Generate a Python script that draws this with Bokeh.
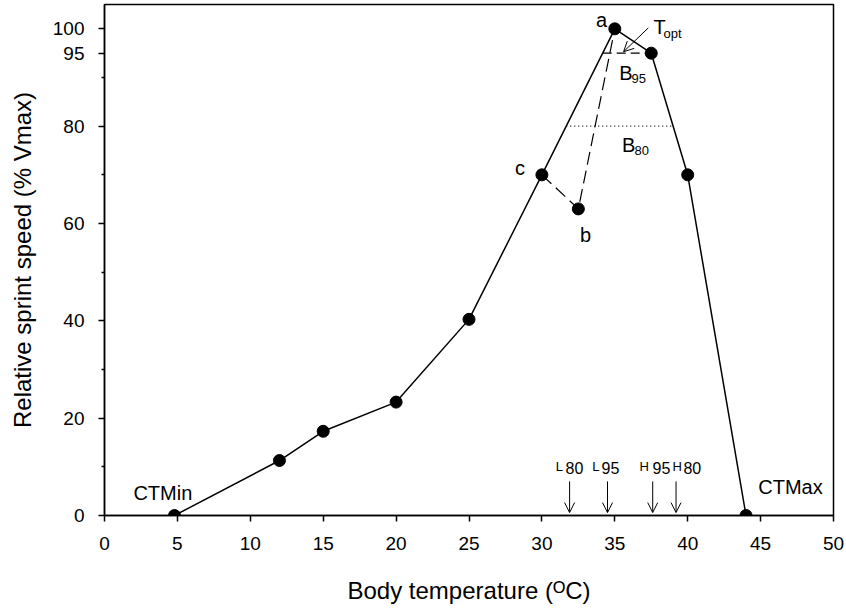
from bokeh.plotting import figure
from bokeh.models import FixedTicker, Arrow, OpenHead, Range1d, ColumnDataSource
from bokeh.core.properties import value
from bokeh.embed import file_html
from bokeh.resources import INLINE

# ---- data ----
temp = [4.8, 12, 15, 20, 25, 30, 35, 37.5, 40, 44]
speed = [0, 11.3, 17.3, 23.3, 40.3, 70, 100, 95, 70, 0]
outlier_temp = [32.5]
outlier_speed = [63]
dash_temp = [30, 32.5, 35]
dash_speed = [70, 63, 100]
b95_temp = [34.17, 37.5]
b95_speed = [95, 95]
b80_temp = [31.67, 39.0]
b80_speed = [80, 80]
marker_names = ["L", "L", "H", "H"]
marker_levels = ["80", "95", "95", "80"]
marker_temp = [31.9, 34.5, 37.6, 39.2]
x_ticks = [0, 5, 10, 15, 20, 25, 30, 35, 40, 45, 50]
y_ticks = [0, 20, 40, 60, 80, 95, 100]
y_minor = [10, 30, 50, 70, 90]

FONT = "Liberation Sans"

p = figure(width=846, height=611, x_range=Range1d(0, 50), y_range=Range1d(0, 105),
           output_backend="svg", toolbar_location=None,
           min_border_left=104, min_border_right=13, min_border_top=4, min_border_bottom=96)
p.grid.visible = False
p.background_fill_color = "white"
p.border_fill_color = "white"
p.outline_line_color = "black"
p.outline_line_width = 1.5

for ax in (p.xaxis[0], p.yaxis[0]):
    ax.axis_line_width = 1.5
    ax.axis_line_color = "black"
    ax.major_tick_line_width = 1.5
    ax.major_tick_line_color = "black"
    ax.minor_tick_line_width = 1.5
    ax.minor_tick_line_color = "black"
    ax.major_tick_out = 6
    ax.major_tick_in = 0
    ax.major_label_text_font = FONT
    ax.major_label_text_font_size = "19px"
    ax.major_label_text_color = "black"
    ax.axis_label_text_font = FONT
    ax.axis_label_text_font_size = "24px"
    ax.axis_label_text_font_style = "normal"
    ax.axis_label_text_color = "black"

p.xaxis[0].major_label_standoff = 15
p.yaxis[0].major_label_standoff = 14

p.xaxis[0].ticker = FixedTicker(ticks=x_ticks, minor_ticks=[])
p.yaxis[0].ticker = FixedTicker(ticks=y_ticks, minor_ticks=y_minor)
p.yaxis[0].minor_tick_out = 3
p.yaxis[0].minor_tick_in = 0
p.xaxis[0].minor_tick_out = 0
p.xaxis[0].minor_tick_in = 0

p.yaxis[0].axis_label = "Relative sprint speed (% Vmax)"
p.yaxis[0].axis_label_standoff = 14
p.xaxis[0].axis_label = "Body temperature (\u1d3cC)"
p.xaxis[0].axis_label_standoff = 24

# ---- lines ----
p.line(temp, speed, line_color="black", line_width=1.5)
p.line(dash_temp, dash_speed, line_color="black", line_width=1.2, line_dash="13 6")
p.line(b95_temp, b95_speed, line_color="black", line_width=1.2, line_dash="9 5")
p.line(b80_temp, b80_speed, line_color="black", line_width=1.2, line_dash="1 3")

p.scatter(temp + outlier_temp, speed + outlier_speed, size=12, color="black")

# ---- annotations ----
def txt(x, y, s, size, align="left"):
    p.text(x=[x], y=[y], text=[s], text_font=value(FONT), text_font_size=size,
           text_align=align, text_baseline="alphabetic", text_color="black")

txt(34.1, 101.9, "a", "20px", "center")
txt(28.5, 71.5, "c", "20px", "center")
txt(33.0, 57.7, "b", "20px", "center")
txt(37.65, 100.3, "T", "20px")
txt(38.34, 99.1, "opt", "13px")
txt(35.3, 91.0, "B", "20px")
txt(36.15, 89.8, "95", "13px")
txt(35.5, 76.2, "B", "20px")
txt(36.35, 75.0, "80", "13px")
txt(4.0, 4.6, "CTMin", "20px", "center")
txt(47.05, 5.8, "CTMax", "20px", "center")

p.add_layout(Arrow(end=OpenHead(size=10, line_width=1, line_color="black"),
                   x_start=37.3, y_start=100.2, x_end=35.6, y_end=95.3,
                   line_width=1, line_color="black"))

arr = ColumnDataSource(dict(x0=marker_temp, y0=[7.0] * 4, x1=marker_temp, y1=[0.6] * 4))
p.add_layout(Arrow(end=OpenHead(size=10, line_width=1, line_color="black"),
                   source=arr, x_start="x0", y_start="y0", x_end="x1", y_end="y1",
                   line_width=1, line_color="black"))

letter_left = [30.95, 33.45, 36.7, 38.95]
digit_left = [31.62, 34.09, 37.59, 39.71]
p.text(x=letter_left, y=[10.0] * 4, text=marker_names, text_font=value(FONT),
       text_font_size="13px", text_align="left", text_baseline="alphabetic", text_color="black")
p.text(x=digit_left, y=[9.7] * 4, text=marker_levels, text_font=value(FONT),
       text_font_size="16px", text_align="left", text_baseline="alphabetic", text_color="black")

open("out.html", "w").write(file_html(p, INLINE))
